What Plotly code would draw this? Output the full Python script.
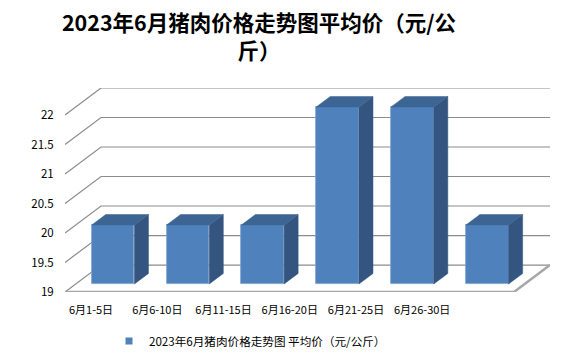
import plotly.graph_objects as go

# ---------------- data ----------------
categories = ["6月1-5日", "6月6-10日", "6月11-15日", "6月16-20日", "6月21-25日", "6月26-30日"]
prices = [20, 20, 20, 22, 22, 20]
y_ticks = [19, 19.5, 20, 20.5, 21, 21.5, 22]
series_name = "2023年6月猪肉价格走势图 平均价（元/公斤）"
title_text = "2023年6月猪肉价格走势图平均价（元/公<br>斤）"

# ---------------- style / geometry ----------------
Y_MIN, Y_MAX = 19, 22
N = len(categories)
DX, DY = 0.481, 0.457          # oblique depth offset (category units, value units)
D_FRONT, D_BACK = 0.296, 0.686 # bar front / back depth fraction
BAR_W = 0.571
LABEL_START, LABEL_STEP = 0.348, 0.885

FRONT = "#4F81BD"
SIDE = "#34557F"
TOP = "#3D6594"
GRID = "#8C8C8C"
FONT = "Noto Sans CJK SC"

W, H = 572, 344   # page body has an 8px margin
ML, MR, MT, MB = 57, 30, 80, 60
PW, PH = W - ML - MR, H - MT - MB

fig = go.Figure()

# walls: gridlines on left wall + back wall
shapes = []
for v in y_ticks:
    shapes.append(dict(type="path", xref="x", yref="y", layer="below",
                       path=f"M 0,{v} L {DX},{v + DY} L {N + DX},{v + DY}",
                       line=dict(color=GRID, width=1.2)))
# floor front & right edges
shapes.append(dict(type="path", xref="x", yref="y", layer="below",
                   path=f"M 0,{Y_MIN} L {N},{Y_MIN} L {N + DX},{Y_MIN + DY}",
                   line=dict(color="#A6A6A6", width=2.5)))

# bar front faces
xc = [k + 0.5 + D_FRONT * DX for k in range(N)]
base = Y_MIN + D_FRONT * DY
fig.add_trace(go.Bar(x=xc, y=[p - Y_MIN for p in prices], base=base, width=BAR_W,
                     marker=dict(color=FRONT, line=dict(color="#7DA1CF", width=0.8)),
                     showlegend=False, hoverinfo="skip"))

# side & top faces
dd = D_BACK - D_FRONT
sx, sy, tx, ty = [], [], [], []
for k, p in enumerate(prices):
    xl = xc[k] - BAR_W / 2
    xr = xc[k] + BAR_W / 2
    b = base
    t = p + D_FRONT * DY
    sx += [xr, xr, xr + dd * DX, xr + dd * DX, xr, None]
    sy += [b, t, t + dd * DY, b + dd * DY, b, None]
    tx += [xl, xr, xr + dd * DX, xl + dd * DX, xl, None]
    ty += [t, t, t + dd * DY, t + dd * DY, t, None]
fig.add_trace(go.Scatter(x=sx, y=sy, fill="toself", fillcolor=SIDE, mode="lines",
                         line=dict(color=SIDE, width=0.5), showlegend=False, hoverinfo="skip"))
fig.add_trace(go.Scatter(x=tx, y=ty, fill="toself", fillcolor=TOP, mode="lines",
                         line=dict(color=TOP, width=0.5), showlegend=False, hoverinfo="skip"))

# legend entry
fig.add_trace(go.Scatter(x=[None], y=[None], mode="markers", name=series_name,
                         marker=dict(symbol="square", size=7, color=FRONT)))

fig.update_layout(
    width=W, height=H,
    margin=dict(l=ML, r=MR, t=MT, b=MB, autoexpand=False),
    paper_bgcolor="white", plot_bgcolor="white",
    shapes=shapes,
    font=dict(family=FONT, color="#000000", size=11),
    title=dict(text=title_text, x=251 / W, xanchor="center", xref="container",
               y=1 - 22.7 / H, yanchor="top", yref="container",
               font=dict(family=FONT, size=21.5, weight="bold", color="#000000")),
    xaxis=dict(range=[0, N + DX], tickvals=[LABEL_START + LABEL_STEP * k for k in range(N)],
               ticktext=categories, showgrid=False, zeroline=False, showline=False,
               ticks="outside", ticklen=8, tickcolor="rgba(0,0,0,0)",
               tickfont=dict(size=11, family=FONT), fixedrange=True, automargin=False),
    yaxis=dict(range=[Y_MIN, Y_MAX + DY], tickvals=y_ticks,
               ticktext=[f"{v:g}" for v in y_ticks], showgrid=False, zeroline=False,
               showline=False, ticks="outside", ticklen=8, tickcolor="rgba(0,0,0,0)",
               tickfont=dict(size=11.5, family=FONT), fixedrange=True, automargin=False),
    legend=dict(orientation="h", xref="paper", yref="paper",
                x=(101 - ML) / PW, xanchor="left", y=(H - MB - 333) / PH, yanchor="middle",
                font=dict(size=11.6, family=FONT), bgcolor="rgba(0,0,0,0)"),
    bargap=0,
)

fig.write_html("out.html")
